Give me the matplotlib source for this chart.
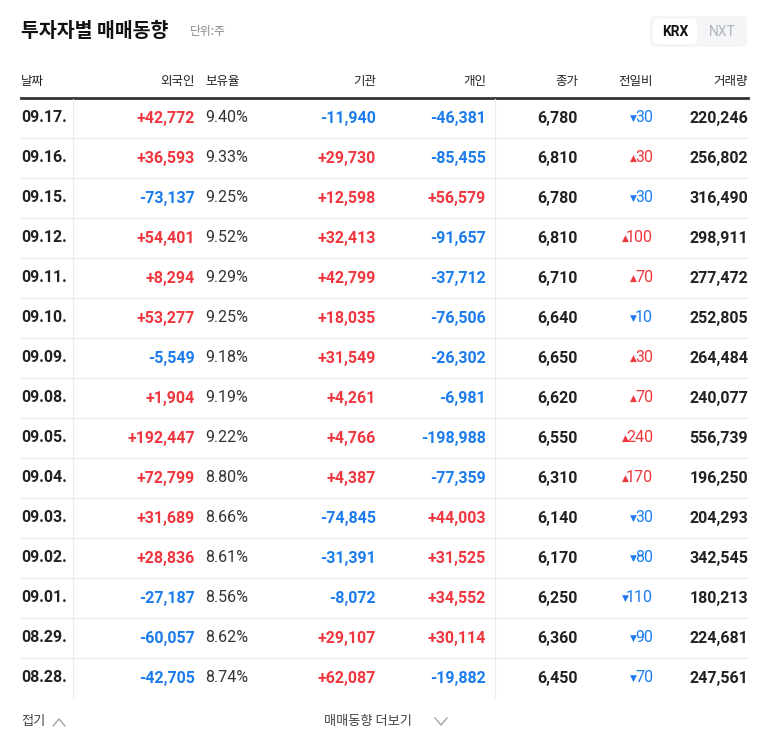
import matplotlib
matplotlib.use("Agg")
import matplotlib.pyplot as plt
from matplotlib.patches import FancyBboxPatch

dates = ["09.17.","09.16.","09.15.","09.12.","09.11.","09.10.","09.09.","09.08.","09.05.","09.04.","09.03.","09.02.","09.01.","08.29.","08.28."]
foreign = [42772,36593,-73137,54401,8294,53277,-5549,1904,192447,72799,31689,28836,-27187,-60057,-42705]
ratio = [9.40,9.33,9.25,9.52,9.29,9.25,9.18,9.19,9.22,8.80,8.66,8.61,8.56,8.62,8.74]
inst = [-11940,29730,12598,32413,42799,18035,31549,4261,4766,4387,-74845,-31391,-8072,29107,62087]
indiv = [-46381,-85455,56579,-91657,-37712,-76506,-26302,-6981,-198988,-77359,44003,31525,34552,30114,-19882]
close = [6780,6810,6780,6810,6710,6640,6650,6620,6550,6310,6140,6170,6250,6360,6450]
change = [-30,30,-30,100,70,-10,30,70,240,170,-30,-80,-110,-90,-70]
volume = [220246,256802,316490,298911,277472,252805,264484,240077,556739,196250,204293,342545,180213,224681,247561]
headers = ["날짜","외국인","보유율","기관","개인","종가","전일비","거래량"]

FONT = ["Noto Sans CJK KR", "Noto Sans CJK JP", "Noto Sans CJK SC", "Noto Sans CJK TC", "DejaVu Sans"]
NUMF = ["Liberation Sans Narrow", "Roboto", "Liberation Sans", "DejaVu Sans"]
RED = "#f0373f"; BLUE = "#1c7ced"; DARK = "#222222"

fig = plt.figure(figsize=(7.68, 7.49), dpi=100)
ax = fig.add_axes([0, 0, 1, 1])
ax.set_xlim(0, 768); ax.set_ylim(749, 0); ax.axis("off")

def T(x, y, s, **kw):
    kw.setdefault("family", FONT)
    ax.text(x, y, s, va="center", **kw)

T(21, 31, "투자자별 매매동향", fontsize=14, weight="bold", color="#111111")
T(190, 32, "단위:주", fontsize=8.5, color="#888888")
ax.add_patch(FancyBboxPatch((650, 16), 97, 31, boxstyle="round,pad=0,rounding_size=5", fc="#f4f5f7", ec="none"))
ax.add_patch(FancyBboxPatch((653, 19), 44, 25, boxstyle="round,pad=0,rounding_size=4", fc="white", ec="none"))
T(675, 32, "KRX", fontsize=10, weight="bold", color="#111111", ha="center", family=NUMF)
T(722, 32, "NXT", fontsize=10, color="#b0b3b8", ha="center", family=NUMF)

hx = [(21,"left"),(195,"right"),(205,"left"),(376,"right"),(486,"right"),(578,"right"),(653,"right"),(748,"right")]
for (x, ha), h in zip(hx, headers):
    T(x, 81, h, fontsize=9, color=DARK, ha=ha)
ax.plot([21, 748], [98, 98], color="#333333", lw=2)

def sg(v):
    return (f"+{v:,}", RED) if v > 0 else (f"{v:,}", BLUE)

NS = 11.5
for i, d in enumerate(dates):
    y = 118 + 40 * i
    if i < len(dates) - 1:
        ax.plot([21, 748], [y + 20, y + 20], color="#ececec", lw=0.8)
    T(21, y, d, fontsize=NS, weight="bold", color=DARK, family=NUMF)
    s, c = sg(foreign[i]); T(195, y, s, fontsize=NS, weight="bold", color=c, ha="right", family=NUMF)
    T(205, y, f"{ratio[i]:.2f}%", fontsize=NS, color="#333333", family=NUMF)
    s, c = sg(inst[i]); T(376, y, s, fontsize=NS, weight="bold", color=c, ha="right", family=NUMF)
    s, c = sg(indiv[i]); T(486, y, s, fontsize=NS, weight="bold", color=c, ha="right", family=NUMF)
    T(578, y, f"{close[i]:,}", fontsize=NS, weight="bold", color=DARK, ha="right", family=NUMF)
    ch = change[i]
    c = RED if ch > 0 else BLUE
    num = f"{abs(ch)}"
    T(653, y, num, fontsize=NS, color=c, ha="right", family=NUMF)
    T(653 - 7.3 * len(num) - 2, y, "▲" if ch > 0 else "▼", fontsize=6.5, color=c, ha="right", family="DejaVu Sans")
    T(748, y, f"{volume[i]:,}", fontsize=NS, weight="bold", color=DARK, ha="right", family=NUMF)

for x in (73, 495):
    ax.plot([x, x], [99, 698], color="#ececec", lw=0.8)

T(21, 721, "접기", fontsize=9.5, color="#444444")
ax.plot([53, 59, 65], [726, 719, 726], color="#999999", lw=0.9)
T(324, 721, "매매동향 더보기", fontsize=9.5, color="#444444")
ax.plot([435, 441, 447], [718, 725, 718], color="#999999", lw=0.9)

fig.savefig("out.png", dpi=100, facecolor="white")
